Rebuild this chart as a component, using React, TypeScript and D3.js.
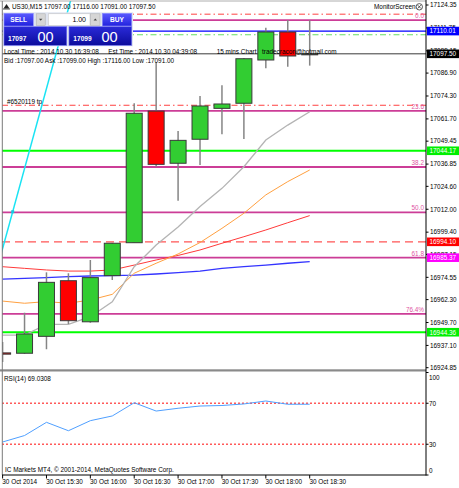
import React from 'react';
import * as d3 from 'd3';

// ---------- DATA ----------
const times = ['15:00','15:15','15:30','15:45','16:00','16:15','16:30','16:45','17:00','17:15','17:30','17:45','18:00','18:15','18:30'];
const opens  = [16933.0,16932.8,16942.1,16972.7,16950.1,16975.5,16993.6,17066.0,17037.3,17050.5,17067.5,17070.3,17094.1,17109.5,17097.0];
const highs  = [16939.0,16955.1,16977.3,16976.8,16984.1,16993.5,17070.3,17093.0,17055.0,17074.3,17080.2,17095.2,17111.9,17116.1,17116.0];
const lows   = [16928.0,16932.5,16935.0,16948.9,16949.6,16973.1,16993.6,17035.4,17016.7,17036.3,17053.2,17050.6,17089.5,17090.4,17091.0];
const closes = [16932.3,16943.4,16971.8,16950.7,16974.4,16993.3,17064.8,17036.7,17049.9,17068.8,17069.9,17094.8,17109.5,17096.3,17097.5];

const maGray   = [16942.8,16942.8,16948.7,16948.7,16952.9,16961.1,16980.4,16992.3,17002.2,17013.5,17023.5,17035.4,17050.1,17058.3,17065.6];
const maOrange = [16961.5,16960.3,16961.2,16960.3,16962.1,16965.2,16976.8,16982.3,16987.4,16993.7,17001.5,17009.8,17019.9,17027.2,17033.6];
const maRed    = [16980.4,16979.5,16978.6,16978.0,16978.0,16978.6,16981.3,16984.1,16986.6,16989.6,16993.3,16996.9,17000.6,17004.6,17008.5];
const maBlue   = [16973.6,16974.0,16974.4,16974.9,16975.3,16975.5,16975.8,16976.4,16977.1,16978.0,16979.5,16980.4,16981.3,16982.3,16983.2];

const rsiValues = [32.2,38.5,51.4,43.2,53.0,57.6,70.5,62.4,65.1,67.3,67.8,69.3,72.2,69.0,69.03];
const rsiLevels = [70, 30];
const rsiTicks = ['100','70','30','0'];
const rsiTickValues = [100, 70, 30, 0];

const priceTicks = [17124.35,17111.75,17099.15,17086.90,17074.30,17061.70,17049.45,17036.85,17024.60,17012.00,16999.40,16987.15,16974.55,16962.30,16949.70,16937.10,16924.85];

const timeTickIdx = [0,2,4,6,8,10,12,14];
const timeTickLabels = ['30 Oct 2014','30 Oct 15:30','30 Oct 16:00','30 Oct 16:30','30 Oct 17:00','30 Oct 17:30','30 Oct 18:00','30 Oct 18:30'];

const fibLevels = [0, 23.6, 38.2, 50, 61.8, 76.4];
const fibLabels = ['0.0','23.6','38.2','50.0','61.8','76.4%'];
const fibHigh = 17116.0;
const fibLow = 16904.6;

const levelPrices = [17119.3, 17110.01, 17108.0, 17097.50, 17069.2, 17044.17, 16994.10, 16944.36];
const levelKinds  = ['redDashDot','blue','greenDashDot','bid','redDashDot','green','redDash','green'];

const boxPrices = [17110.01, 17097.50, 17044.17, 16994.10, 16985.37, 16944.36];
const boxLabels = ['17110.01','17097.50','17044.17','16994.10','16985.37','16944.36'];
const boxKinds  = ['blue','black','green','red','magenta','green'];

const trendIdx = [0, 2];
const trendPrice = [16990.4, 17078.4];
const trendDotIdx = 0.46;

// ---------- STYLES ----------
const FONT = '"Liberation Sans", Arial, sans-serif';
const FS = 6.4;
const levelStyle: Record<string, {stroke: string; width: number; dash?: string}> = {
  redDashDot: { stroke: '#ff4040', width: 1, dash: '6,3,1.5,3' },
  greenDashDot: { stroke: '#66dd66', width: 1.2, dash: '6,3,1.5,3' },
  blue: { stroke: '#0000ff', width: 1.2 },
  bid: { stroke: '#3a3a3a', width: 1 },
  green: { stroke: '#00ff00', width: 1.8 },
  redDash: { stroke: '#ff5555', width: 1.2, dash: '8,5' },
};
const boxColor: Record<string, string> = {
  blue: '#0000ff', black: '#000000', green: '#00ee00', red: '#ff0000', magenta: '#ff00ff',
};

export default function App() {
  const W = 459, H = 488;
  const plotL = 2, plotR = 426, mainTop = 1, mainBot = 369;
  const rsiTop = 372.5, rsiBot = 475;

  const x = d3.scaleLinear().domain([0, 14]).range([2.6, 309.7]);
  const y = d3.scaleLinear().domain([16924.85, 17124.35]).range([367.7, 5]);
  const ry = d3.scaleLinear().domain([0, 100]).range([rsiBot, rsiTop]);

  const maLine = d3.line<number>().x((_, i) => x(i)).y(d => y(d));
  const rsiLine = d3.line<number>().x((_, i) => x(i)).y(d => ry(d));

  const fibPrice = (lv: number) => fibHigh - (fibHigh - fibLow) * lv / 100;

  // trend line extended across plot
  const slope = (trendPrice[1] - trendPrice[0]) / (trendIdx[1] - trendIdx[0]);
  const tP = (i: number) => trendPrice[0] + slope * (i - trendIdx[0]);
  const tI0 = x.invert(plotL - 5), tI1 = x.invert(120);

  const bw = 16;
  const txt = { fontFamily: FONT, fontSize: FS } as const;

  return (
    <svg width={W} height={H} style={{ position: 'absolute', left: 0, top: 0, background: '#fff' }}>
      <defs>
        <clipPath id="mainClip"><rect x={plotL} y={mainTop} width={plotR - plotL} height={mainBot - mainTop} /></clipPath>
        <clipPath id="rsiClip"><rect x={plotL} y={rsiTop - 1} width={plotR - plotL} height={rsiBot - rsiTop + 1} /></clipPath>
        <linearGradient id="btnGrad" x1="0" y1="0" x2="0" y2="1">
          <stop offset="0" stopColor="#5a5aff" />
          <stop offset="1" stopColor="#2222dd" />
        </linearGradient>
        <linearGradient id="priceGrad" x1="0" y1="0" x2="0" y2="1">
          <stop offset="0" stopColor="#2a2ad8" />
          <stop offset="1" stopColor="#0c0c9c" />
        </linearGradient>
      </defs>
      <rect x={0} y={0} width={W} height={H} fill="#fff" />

      {/* ===== MAIN PANEL ===== */}
      <g clipPath="url(#mainClip)">
        {/* horizontal levels */}
        {levelPrices.map((p, i) => {
          const s = levelStyle[levelKinds[i]];
          return <line key={'lv' + i} x1={plotL} x2={plotR} y1={y(p)} y2={y(p)} stroke={s.stroke} strokeWidth={s.width} strokeDasharray={s.dash} />;
        })}
        {/* fib levels */}
        {fibLevels.map((lv, i) => (
          <g key={'fib' + i}>
            <line x1={plotL} x2={plotR} y1={y(fibPrice(lv))} y2={y(fibPrice(lv))} stroke="#cc3d97" strokeWidth={1.8} />
            <text x={424} y={y(fibPrice(lv)) - 2} textAnchor="end" fill="#e0559f" {...txt}>{fibLabels[i]}</text>
          </g>
        ))}
        {/* moving averages */}
        <path d={maLine(maBlue) || ''} fill="none" stroke="#3434ff" strokeWidth={1.3} />
        <path d={maLine(maRed) || ''} fill="none" stroke="#ff3a3a" strokeWidth={1} />
        <path d={maLine(maOrange) || ''} fill="none" stroke="#ffa040" strokeWidth={1} />
        <path d={maLine(maGray) || ''} fill="none" stroke="#b4b4b4" strokeWidth={1.3} />
        {/* candles */}
        {times.map((t, i) => {
          const cx = x(i);
          const up = closes[i] >= opens[i];
          const top = y(Math.max(opens[i], closes[i]));
          const bot = y(Math.min(opens[i], closes[i]));
          return (
            <g key={'c' + t}>
              <line x1={cx} x2={cx} y1={y(highs[i])} y2={y(lows[i])} stroke="#858585" strokeWidth={1.5} />
              <rect x={cx - bw / 2} y={top} width={bw} height={Math.max(1, bot - top)} fill={up ? '#32cd32' : '#ff0000'} stroke="#3a3a3a" strokeWidth={1} />
            </g>
          );
        })}
        {/* cyan trend line */}
        <line x1={x(tI0)} y1={y(tP(tI0))} x2={x(tI1)} y2={y(tP(tI1))} stroke="#19e3f3" strokeWidth={1.5} />
        <rect x={x(trendDotIdx) - 1.5} y={y(tP(trendDotIdx)) - 1.5} width={3} height={3} fill="#19c8e0" />
      </g>

      {/* texts inside main */}
      <text x={7} y={104} fill="#000" {...txt}>#6520119 tp</text>
      <text x={4} y={54} fill="#000" {...txt}>Local Time : 2014.10.30 16:39:08</text>
      <text x={108.3} y={54} fill="#000" {...txt}>Est Time : 2014.10.30 04:39:08</text>
      <text x={216.7} y={54} fill="#000" {...txt}>15 mins Chart</text>
      <text x={262} y={54} fill="#000" {...txt}>tradecracon@hotmail.com</text>
      <text x={4} y={62.5} fill="#000" {...txt}>Bid :17097.00 Ask :17099.00 High :17116.00 Low :17091.00</text>

      {/* title row */}
      <path d="M3.5,8.5 L6.5,4 L9.5,8.5 Z" fill="#222" />
      <line x1={3} x2={10} y1={9} y2={9} stroke="#222" strokeWidth={0.8} />
      <text x={12} y={8.8} fill="#000" {...txt}>US30,M15  17097.00 17116.00 17091.00 17097.50</text>
      <text x={374} y={9} fill="#000" {...txt}>MonitorScreen</text>
      <circle cx={419.3} cy={6.8} r={3.2} fill="#fff" stroke="#333" strokeWidth={0.8} />
      <path d="M417.6,5.1 L421,8.5 M421,5.1 L417.6,8.5" stroke="#333" strokeWidth={0.8} />

      {/* one-click trading panel */}
      <g>
        <rect x={3} y={12.3} width={130} height={34} fill="#dfe4f0" />
        <rect x={4} y={13.3} width={29.3} height={12.7} fill="url(#btnGrad)" stroke="#8c8cff" strokeWidth={0.6} />
        <text x={18.7} y={21.8} textAnchor="middle" fill="#fff" fontFamily={FONT} fontSize={6.6} fontWeight="bold">SELL</text>
        <rect x={36.2} y={13.8} width={9} height={11.7} fill="#d6d6d6" stroke="#aaa" strokeWidth={0.5} />
        <path d="M39,18.8 L42.4,18.8 L40.7,20.8 Z" fill="#444" />
        <rect x={48.3} y={13.8} width={41.7} height={11.7} fill="#fff" stroke="#bbb" strokeWidth={0.5} />
        <text x={86} y={22.2} textAnchor="end" fill="#000" fontFamily={FONT} fontSize={7}>1.00</text>
        <rect x={90.7} y={13.8} width={9.3} height={11.7} fill="#d6d6d6" stroke="#aaa" strokeWidth={0.5} />
        <path d="M93.6,20.6 L97,20.6 L95.3,18.6 Z" fill="#444" />
        <rect x={102.3} y={13.3} width={29.4} height={12.7} fill="url(#btnGrad)" stroke="#8c8cff" strokeWidth={0.6} />
        <text x={117} y={21.8} textAnchor="middle" fill="#fff" fontFamily={FONT} fontSize={6.6} fontWeight="bold">BUY</text>
        <rect x={4} y={26.7} width={62.7} height={18.6} fill="url(#priceGrad)" stroke="#6c6cf0" strokeWidth={0.6} />
        <text x={8} y={40.5} fill="#fff" fontFamily={FONT} fontSize={6.6} fontWeight="bold">17097</text>
        <text x={37.5} y={41.7} fill="#fff" fontFamily={FONT} fontSize={14.5}>00</text>
        <rect x={69} y={26.7} width={62.7} height={18.6} fill="url(#priceGrad)" stroke="#6c6cf0" strokeWidth={0.6} />
        <text x={73.3} y={40.5} fill="#fff" fontFamily={FONT} fontSize={6.6} fontWeight="bold">17099</text>
        <text x={101.5} y={41.7} fill="#fff" fontFamily={FONT} fontSize={14.5}>00</text>
      </g>

      {/* ===== RSI PANEL ===== */}
      <g clipPath="url(#rsiClip)">
        {rsiLevels.map(lv => (
          <line key={'rl' + lv} x1={plotL} x2={plotR} y1={ry(lv)} y2={ry(lv)} stroke="#ff5a5a" strokeWidth={1.4} strokeDasharray="2,2" />
        ))}
        <path d={rsiLine(rsiValues) || ''} fill="none" stroke="#4f9fff" strokeWidth={1} />
      </g>
      <text x={4} y={380.6} fill="#000" {...txt}>RSI(14) 69.0308</text>
      <text x={5} y={472.3} fill="#000" {...txt}>IC Markets MT4, © 2001-2014, MetaQuotes Software Corp.</text>

      {/* separator & frame */}
      <rect x={0} y={369.3} width={plotR} height={2.2} fill="#8a8a8a" />
      <line x1={0} x2={plotR} y1={1} y2={1} stroke="#9a9a9a" strokeWidth={0.8} />
      <line x1={2.3} x2={2.3} y1={1} y2={rsiBot} stroke="#7a7a7a" strokeWidth={1} />
      <line x1={plotR} x2={plotR} y1={0} y2={rsiBot + 0.5} stroke="#000" strokeWidth={1} />
      <line x1={2} x2={plotR} y1={rsiBot} y2={rsiBot} stroke="#000" strokeWidth={1} />

      {/* price axis */}
      {priceTicks.map(p => (
        <g key={'pt' + p}>
          <line x1={plotR} x2={plotR + 2.5} y1={y(p)} y2={y(p)} stroke="#000" strokeWidth={1} />
          <text x={430} y={y(p) + 2.3} fill="#000" {...txt}>{p.toFixed(2)}</text>
        </g>
      ))}
      {boxPrices.map((p, i) => (
        <g key={'bx' + i}>
          <rect x={427} y={y(p) - 4.3} width={32} height={8.6} fill={boxColor[boxKinds[i]]} />
          <text x={429.5} y={y(p) + 2.3} fill="#fff" {...txt}>{boxLabels[i]}</text>
        </g>
      ))}

      {/* RSI axis */}
      {rsiTickValues.map((v, i) => {
        const ly = v === 100 ? 377.3 : v === 0 ? 470.7 : ry(v);
        return (
          <g key={'rt' + v}>
            <line x1={plotR} x2={plotR + 2.5} y1={ry(v)} y2={ry(v)} stroke="#000" strokeWidth={1} />
            <text x={429} y={ly + 2.3} fill="#000" {...txt}>{rsiTicks[i]}</text>
          </g>
        );
      })}

      {/* time axis */}
      {timeTickIdx.map((ti, i) => (
        <g key={'tt' + ti}>
          <line x1={x(ti)} x2={x(ti)} y1={rsiBot} y2={rsiBot + 3.5} stroke="#000" strokeWidth={1} />
          <text x={x(ti) - 0.3} y={484.2} fill="#000" {...txt}>{timeTickLabels[i]}</text>
        </g>
      ))}
    </svg>
  );
}
